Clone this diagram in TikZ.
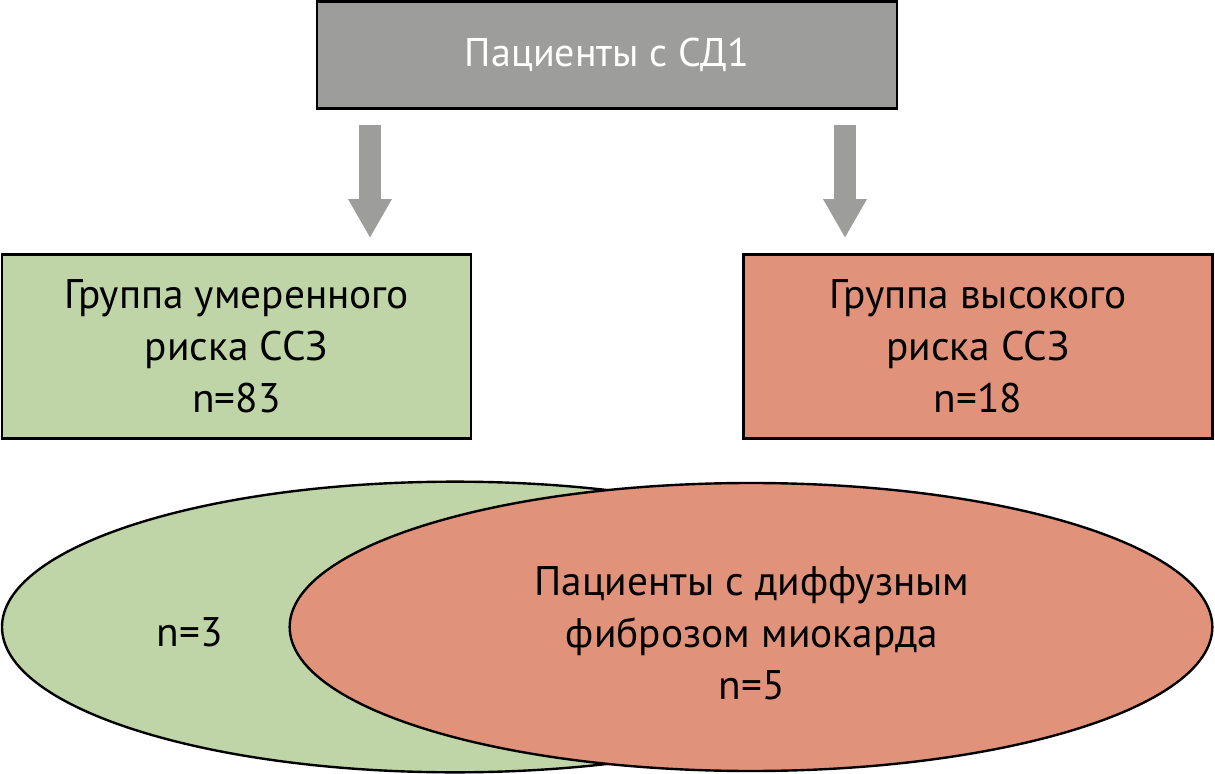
\documentclass[tikz,border=0pt]{standalone}
\usepackage{fontspec}
\setmainfont{PT Sans}
\usetikzlibrary{arrows.meta,shapes.geometric}
\definecolor{topgray}{HTML}{9D9D9C}
\definecolor{boxgreen}{HTML}{C0D5A7}
\definecolor{boxred}{HTML}{E0937A}
\tikzset{
  box/.style={draw=black, line width=2pt, minimum width=351.75pt, minimum height=138pt, inner sep=0pt, align=center,
    font=\fontsize{31}{39}\selectfont},
  topbox/.style={draw=black, line width=2pt, fill=topgray, minimum width=435pt, minimum height=80.25pt, inner sep=0pt,
    text=white, font=\fontsize{30}{36}\selectfont},
  venn/.style={ellipse, draw=black, line width=1.8pt, inner sep=0pt},
  lbl/.style={align=center, font=\fontsize{31}{39}\selectfont, inner sep=0pt},
  arr/.style={draw=topgray, line width=16.5pt, -{Triangle[width=30.75pt, length=29.25pt]}}
}
\begin{document}
\begin{tikzpicture}[x=0.75pt, y=-0.75pt]
\useasboundingbox (0,0) rectangle (1215,774);
\node[topbox] (top) at (607,55) {Пациенты с СД1};
\node[box, fill=boxgreen] (mod) at (236.5,346.5) {Группа умеренного\\риска ССЗ\\n=83};
\node[box, fill=boxred] (high) at (978,346.5) {Группа высокого\\риска ССЗ\\n=18};
\coordinate (a1s) at (370,125);
\coordinate (a1e) at (370,238);
\coordinate (a2s) at (845,125);
\coordinate (a2e) at (845,238);
\draw[arr] (a1s) -- (a1e);
\draw[arr] (a2s) -- (a2e);
\node[venn, fill=boxgreen, minimum width=679.5pt, minimum height=218pt] (g) at (455,627) {};
\node[venn, fill=boxred, minimum width=692pt, minimum height=216pt] (r) at (751,627) {};
\node[lbl] (n3) at (190,632) {n=3};
\node[lbl] (fib) at (752,633) {Пациенты с диффузным\\фиброзом миокарда\\n=5};
\end{tikzpicture}
\end{document}
